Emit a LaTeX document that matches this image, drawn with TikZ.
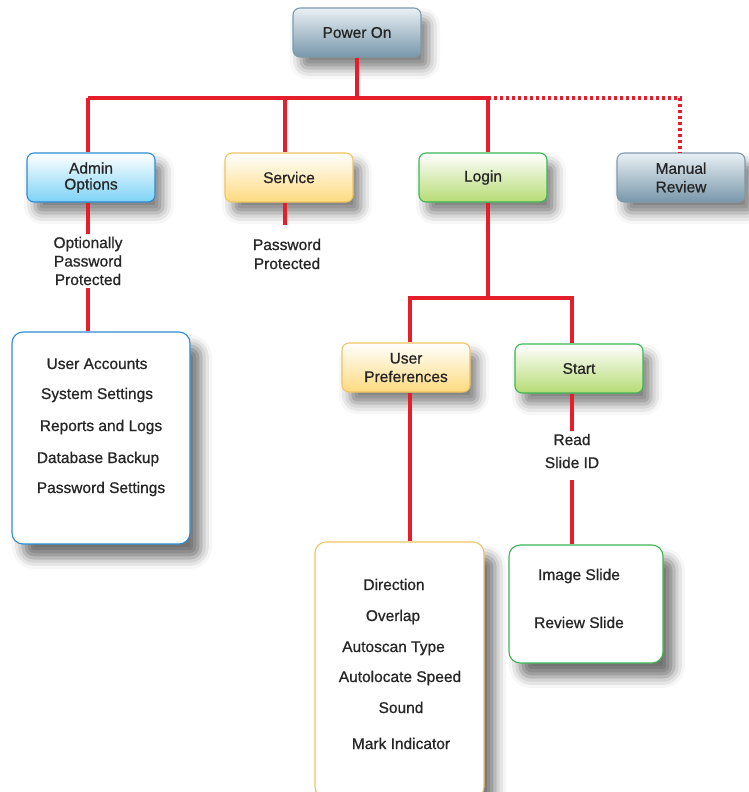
\documentclass[tikz,border=0pt]{standalone}
\usepackage{fontspec}
\setmainfont{Liberation Sans}[FakeBold=0.8]
\usetikzlibrary{positioning,shadows.blur}
\definecolor{linkred}{HTML}{E41E2B}
\definecolor{ink}{HTML}{262626}
\definecolor{slateline}{HTML}{7F9AAB}
\definecolor{slatetop}{HTML}{E9F0F4}
\definecolor{slatebot}{HTML}{7897AB}
\definecolor{blueline}{HTML}{2A8CD2}
\definecolor{bluebot}{HTML}{7DD2F6}
\definecolor{yellowline}{HTML}{F0C463}
\definecolor{yellowbot}{HTML}{FDDA7E}
\definecolor{greenline}{HTML}{3BB653}
\definecolor{greenbot}{HTML}{B6DB74}
\tikzset{
    semithick,
    link/.style = {draw=linkred, line width=3.2pt},
    dotlink/.style = {draw=linkred, line width=3.2pt, dash pattern=on 3pt off 3pt},
    box/.style = {rounded corners=7pt, minimum width=128pt, minimum height=49pt,
        line width=1.1pt, align=center, text=ink,
        blur shadow={shadow xshift=8pt, shadow yshift=-11pt, shadow blur radius=11pt, shadow opacity=50}},
    slatebox/.style = {box, draw=slateline, top color=slatetop, bottom color=slatebot},
    bluebox/.style = {box, draw=blueline, top color=white, bottom color=bluebot},
    yellowbox/.style = {box, draw=yellowline, top color=white, bottom color=yellowbot},
    greenbox/.style = {box, draw=greenline, top color=white, bottom color=greenbot},
    listbox/.style = {rounded corners=11pt, fill=white, line width=1.1pt,
        blur shadow={shadow xshift=11pt, shadow yshift=-14pt, shadow blur radius=11pt, shadow opacity=55}},
    note/.style = {align=center, text=ink, inner sep=3pt},
    item/.style = {text=ink, inner sep=0pt, text height=11pt, text depth=3pt}
}
\begin{document}
\begin{tikzpicture}[x=1pt, y=-1pt, font=\fontsize{15.5}{18.5}\selectfont]
  \useasboundingbox (0,0) rectangle (749,792);
  \clip (0,0) rectangle (749,792);

  \node[slatebox] (power) at (357, 32.5) {Power On};

  \node[bluebox] (admin) at (91, 177.5) {Admin\\[-2.5pt]Options};

  \node[yellowbox] (service) at (289, 177.5) {Service};

  \node[greenbox] (login) at (483, 177.5) {Login};

  \node[slatebox] (manual) at (681, 177.5) {Manual\\Review};

  \node[note] (adminnote) at (88, 261) {Optionally\\Password\\Protected};

  \node[note] (servicenote) at (287, 254) {Password\\[0.5pt]Protected};

  \node[listbox, draw=blueline, minimum width=178pt, minimum height=212pt] (adminbox) at (101, 438) {};

  \node[item] (accounts) at (97, 365) {User Accounts};
  \node[item] (system) at (97, 395) {System Settings};
  \node[item] (reports) at (101, 427) {Reports and Logs};
  \node[item] (backup) at (98, 459) {Database Backup};
  \node[item] (passwords) at (101, 489) {Password Settings};

  \node[yellowbox] (pref) at (406, 367.5) {User\\Preferences};

  \node[greenbox] (start) at (579, 368.5) {Start};

  \node[note, font=\fontsize{15.5}{23}\selectfont] (startnote) at (572, 451) {Read\\Slide ID};

  \node[listbox, draw=yellowline, minimum width=169pt, minimum height=256pt] (prefbox) at (399.5, 670) {};

  \node[item] (direction) at (394, 586) {Direction};
  \node[item] (overlap) at (393, 617) {Overlap};
  \node[item] (autoscan) at (393.5, 648) {Autoscan Type};
  \node[item] (autolocate) at (400, 678) {Autolocate Speed};
  \node[item] (sound) at (401, 709) {Sound};
  \node[item] (mark) at (401, 745) {Mark Indicator};

  \node[listbox, draw=greenline, minimum width=154pt, minimum height=118pt] (slidebox) at (586, 604) {};

  \node[item] (image) at (579, 576) {Image Slide};
  \node[item] (review) at (579, 624) {Review Slide};

  % bus under Power On
  \coordinate (busL) at (88, 98);
  \coordinate (busS) at (285, 98);
  \coordinate (busR) at (488, 98);
  \coordinate (busM) at (680, 98);
  \coordinate (fork) at (488, 298);
  \coordinate (prefx) at (410, 0);
  \coordinate (startx) at (572, 0);

  \draw[link] (power) -- (power |- busL);
  \draw[link] (busL) -- (busR);
  \draw[dotlink] (busR) -| (busM |- manual.north);

  \path[link] (busL) edge (busL |- admin.north);
  \path[link] (busS) edge (busS |- service.north);
  \path[link] (busR) edge (busR |- login.north);

  \draw[link] (busL |- admin.south) -- (busL |- adminnote.north);
  \draw[link] (busL |- adminnote.south) -- (busL |- adminbox.north);

  \draw[link, shorten >=11pt] (busS |- service.south) -- (busS |- servicenote.north);

  \draw[link] (busR |- login.south) -- (fork);
  \draw[link] (pref.north -| prefx) |- (fork) -| (start.north -| startx);

  \draw[link] (pref.south -| prefx) -- (prefbox.north -| prefx);

  \draw[link] (start.south -| startx) -- (startnote.north -| startx);
  \draw[link, shorten <=9pt] (startnote.south -| startx) -- (slidebox.north -| startx);
\end{tikzpicture}
\end{document}
